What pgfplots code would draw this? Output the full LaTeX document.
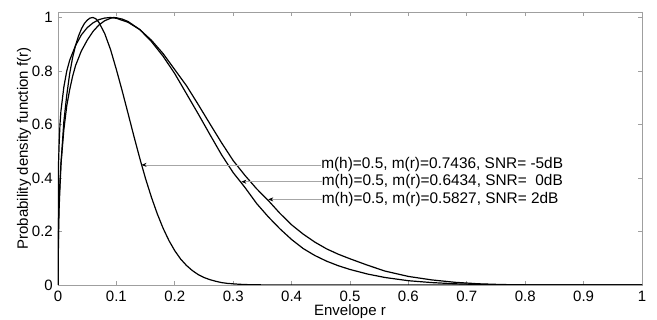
\documentclass[border=0pt]{standalone}
\usepackage{pgfplots}
\pgfplotsset{compat=1.18}
\usepackage{pgfplotstable}
\usepackage{fontspec}
\setmainfont{Liberation Sans}
\usetikzlibrary{arrows.meta}

\pgfplotstableread{
r f
0 0
0.001 0.2
0.002 0.29
0.005 0.45
0.01 0.61
0.015 0.71
0.02 0.79
0.025 0.85
0.03 0.895
0.035 0.93
0.04 0.957
0.045 0.977
0.05 0.99
0.055 0.998
0.06 1.0
0.065 0.995
0.07 0.982
0.08 0.94
0.09 0.88
0.1 0.805
0.11 0.725
0.12 0.641
0.13 0.556
0.14 0.474
0.15 0.397
0.16 0.328
0.17 0.266
0.18 0.212
0.19 0.166
0.2 0.128
0.21 0.097
0.22 0.073
0.23 0.054
0.24 0.039
0.25 0.028
0.26 0.02
0.27 0.014
0.28 0.009
0.29 0.006
0.31 0.0027
0.33 0.001
0.36 0.0002
0.4 0
1 0
}\snrA

\pgfplotstableread{
r f
0 0
0.001 0.25
0.002 0.33
0.005 0.45
0.01 0.58
0.015 0.67
0.02 0.73
0.025 0.78
0.03 0.82
0.04 0.875
0.05 0.915
0.06 0.948
0.07 0.972
0.08 0.988
0.09 0.997
0.095 1.0
0.1 0.999
0.11 0.994
0.12 0.985
0.14 0.955
0.16 0.91
0.18 0.855
0.2 0.79
0.22 0.715
0.24 0.64
0.26 0.563
0.28 0.487
0.3 0.42
0.32 0.365
0.34 0.305
0.36 0.255
0.38 0.21
0.4 0.17
0.42 0.136
0.44 0.11
0.46 0.089
0.48 0.072
0.5 0.058
0.53 0.041
0.56 0.028
0.6 0.016
0.64 0.009
0.68 0.0045
0.72 0.002
0.76 0.0007
0.8 0.0002
0.85 0
1 0
}\snrB

\pgfplotstableread{
r f
0 0
0.0005 0.4
0.001 0.46
0.002 0.53
0.0034 0.6
0.005 0.65
0.01 0.74
0.015 0.8
0.02 0.84
0.03 0.895
0.04 0.935
0.05 0.962
0.06 0.98
0.07 0.992
0.08 0.998
0.09 1.0
0.1 0.997
0.12 0.982
0.14 0.955
0.16 0.915
0.18 0.865
0.2 0.805
0.22 0.745
0.24 0.675
0.26 0.603
0.28 0.532
0.3 0.465
0.32 0.41
0.34 0.36
0.36 0.316
0.38 0.268
0.4 0.225
0.42 0.19
0.44 0.16
0.46 0.135
0.48 0.115
0.5 0.098
0.53 0.074
0.56 0.052
0.6 0.032
0.64 0.019
0.68 0.01
0.72 0.0045
0.76 0.0017
0.8 0.0005
0.85 0
1 0
}\snrC

\begin{document}
\fontsize{15}{18}\selectfont
\begin{tikzpicture}
\path[use as bounding box] (-58pt,-35pt) rectangle (599pt,285pt);
\begin{axis}[
  scale only axis, width=584pt, height=273pt,
  xmin=0, xmax=1, ymin=0, ymax=1.0206,
  xtick={0,0.1,0.2,0.3,0.4,0.5,0.6,0.7,0.8,0.9,1},
  ytick={0,0.2,0.4,0.6,0.8,1},
  tick pos=both, xticklabel pos=lower, yticklabel pos=left,
  tick align=inside, major tick length=4pt,
  axis line style={gray!75, line width=0.7pt},
  every tick/.style={gray!75, line width=0.7pt},
  /pgf/number format/assume math mode=true,
  tick label style={font=\fontsize{15}{18}\selectfont, inner sep=0pt, text=black},
  xticklabel style={yshift=-6pt},
  yticklabel style={xshift=-5pt},
  xlabel={Envelope r},
  xlabel style={at={(axis description cs:0.5,-0.0725)}, anchor=north, inner sep=0pt, font=\fontsize{15}{18}\selectfont},
  ylabel={Probability density function f(r)},
  ylabel style={at={(axis description cs:-0.0707,0.5)}, anchor=north, inner sep=0pt, font=\fontsize{15}{18}\selectfont},
]
\addplot[black, line width=1.2pt] table[x=r, y=f] {\snrA};
\addplot[black, line width=1.2pt] table[x=r, y=f] {\snrB};
\addplot[black, line width=1.2pt] table[x=r, y=f] {\snrC};

\draw[gray!70, line width=0.6pt, -{Stealth[black, length=5pt, width=4pt]}]
  (axis cs:0.4505,0.449) -- (axis cs:0.143,0.449);
\draw[gray!70, line width=0.6pt, -{Stealth[black, length=5pt, width=4pt]}]
  (axis cs:0.4515,0.386) -- (axis cs:0.314,0.386);
\draw[gray!70, line width=0.6pt, -{Stealth[black, length=5pt, width=4pt]}]
  (axis cs:0.4515,0.320) -- (axis cs:0.360,0.320);
\node[anchor=west, inner sep=0pt, font=\fontsize{15.4}{18}\selectfont] at (axis cs:0.4505,0.449) {m(h)=0.5, m(r)=0.7436, SNR= -5dB};
\node[anchor=west, inner sep=0pt, font=\fontsize{15.4}{18}\selectfont] at (axis cs:0.4515,0.386) {m(h)=0.5, m(r)=0.6434, SNR=\ \ 0dB};
\node[anchor=west, inner sep=0pt, font=\fontsize{15.4}{18}\selectfont] at (axis cs:0.4515,0.320) {m(h)=0.5, m(r)=0.5827, SNR= 2dB};
\end{axis}
\end{tikzpicture}
\end{document}
